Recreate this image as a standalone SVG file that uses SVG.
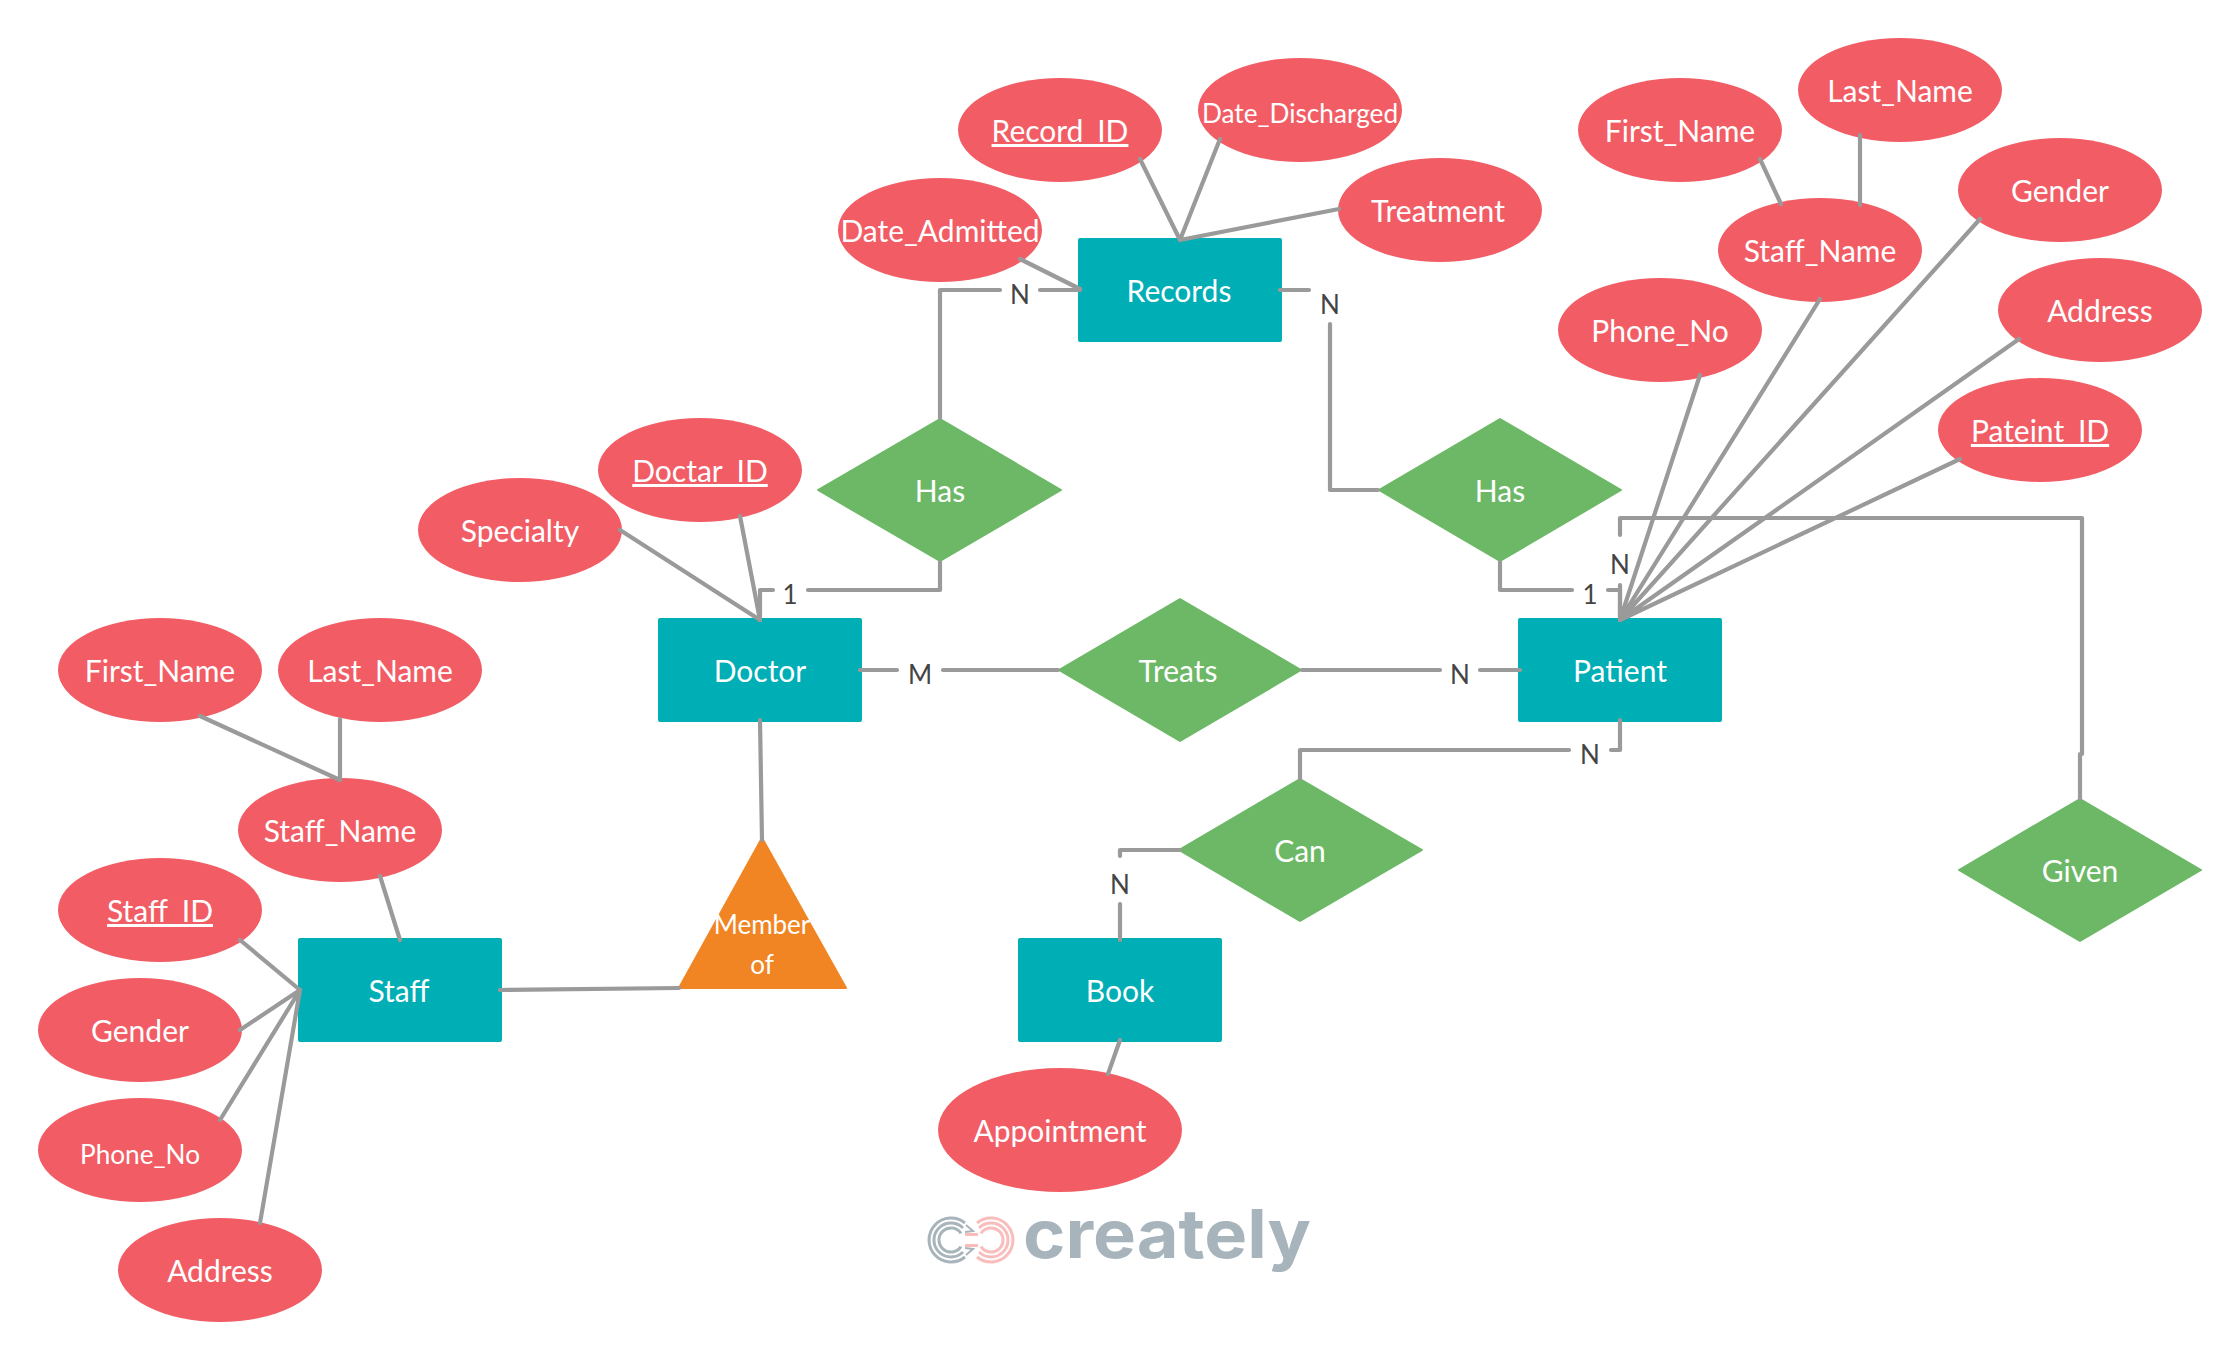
<svg xmlns="http://www.w3.org/2000/svg" width="2240" height="1361" viewBox="0 0 2240 1361">
<defs>
<style>
text{font-family:"Lato","Carlito","Noto Sans",sans-serif;font-size:30px;fill:#fff;text-anchor:middle}
#nodes text{transform:translateY(1px)}
.e{fill:#f25d65}
.r{fill:#00aeb6}
.d{fill:#6cb866;stroke:#6cb866;stroke-width:2;stroke-linejoin:round}
.t{fill:#f18523;stroke:#f18523;stroke-width:2;stroke-linejoin:round}
.u{text-decoration:underline}
.s{font-size:26.2px}
.l{fill:#444;font-size:26px}
#connectors path{fill:none;stroke:#9a9a9a;stroke-width:4.2;stroke-linecap:round;stroke-linejoin:round}
.lg{fill:none;stroke:#a8b4bc;stroke-width:3}
.lp{fill:none;stroke:#fbbcbc;stroke-width:3}
</style>
</defs>
<rect width="2240" height="1361" fill="#fff"/>
<g id="nodes">
<g id="date_admitted"><ellipse class="e" cx="940" cy="230" rx="102" ry="52"/><text x="940" y="241">Date_Admitted</text></g>
<g id="record_id"><ellipse class="e" cx="1060" cy="130" rx="102" ry="52"/><text class="u" x="1060" y="141">Record_ID</text></g>
<g id="date_discharged"><ellipse class="e" cx="1300" cy="110" rx="102" ry="52"/><text class="s" x="1300" y="122">Date_Discharged</text></g>
<g id="treatment"><ellipse class="e" cx="1440" cy="210" rx="102" ry="52"/><text x="1438" y="221">Treatment</text></g>
<g id="records"><rect class="r" x="1078" y="238" width="204" height="104" rx="2"/><text x="1179" y="301">Records</text></g>
<g id="p_first_name"><ellipse class="e" cx="1680" cy="130" rx="102" ry="52"/><text x="1680" y="141">First_Name</text></g>
<g id="p_last_name"><ellipse class="e" cx="1900" cy="90" rx="102" ry="52"/><text x="1900" y="101">Last_Name</text></g>
<g id="p_staff_name"><ellipse class="e" cx="1820" cy="250" rx="102" ry="52"/><text x="1820" y="261">Staff_Name</text></g>
<g id="p_gender"><ellipse class="e" cx="2060" cy="190" rx="102" ry="52"/><text x="2060" y="201">Gender</text></g>
<g id="p_phone_no"><ellipse class="e" cx="1660" cy="330" rx="102" ry="52"/><text x="1660" y="341">Phone_No</text></g>
<g id="p_address"><ellipse class="e" cx="2100" cy="310" rx="102" ry="52"/><text x="2100" y="321">Address</text></g>
<g id="pateint_id"><ellipse class="e" cx="2040" cy="430" rx="102" ry="52"/><text class="u" x="2040" y="441">Pateint_ID</text></g>
<g id="has_records"><polygon class="d" points="940,419 1061,490 940,561 818,490"/><text x="940" y="501">Has</text></g>
<g id="has_patient"><polygon class="d" points="1500,419 1621,490 1500,561 1379,490"/><text x="1500" y="501">Has</text></g>
<g id="doctar_id"><ellipse class="e" cx="700" cy="470" rx="102" ry="52"/><text class="u" x="700" y="481">Doctar_ID</text></g>
<g id="specialty"><ellipse class="e" cx="520" cy="530" rx="102" ry="52"/><text x="520" y="541">Specialty</text></g>
<g id="doctor"><rect class="r" x="658" y="618" width="204" height="104" rx="2"/><text x="760" y="681">Doctor</text></g>
<g id="treats"><polygon class="d" points="1180,599 1301,670 1180,741 1059,670"/><text x="1178" y="681">Treats</text></g>
<g id="patient"><rect class="r" x="1518" y="618" width="204" height="104" rx="2"/><text x="1620" y="681">Patient</text></g>
<g id="can"><polygon class="d" points="1300,779 1422,850 1300,921 1179,850"/><text x="1300" y="861">Can</text></g>
<g id="given"><polygon class="d" points="2080,799 2201,870 2080,941 1959,870"/><text x="2080" y="881">Given</text></g>
<g id="member_of"><polygon class="t" points="762,838 846,988 679,988"/><text x="762" y="933" style="font-size:26px">Member</text><text x="762" y="973" style="font-size:26px">of</text></g>
<g id="s_first_name"><ellipse class="e" cx="160" cy="670" rx="102" ry="52"/><text x="160" y="681">First_Name</text></g>
<g id="s_last_name"><ellipse class="e" cx="380" cy="670" rx="102" ry="52"/><text x="380" y="681">Last_Name</text></g>
<g id="s_staff_name"><ellipse class="e" cx="340" cy="830" rx="102" ry="52"/><text x="340" y="841">Staff_Name</text></g>
<g id="staff_id"><ellipse class="e" cx="160" cy="910" rx="102" ry="52"/><text class="u" x="160" y="921">Staff_ID</text></g>
<g id="s_gender"><ellipse class="e" cx="140" cy="1030" rx="102" ry="52"/><text x="140" y="1041">Gender</text></g>
<g id="s_phone_no"><ellipse class="e" cx="140" cy="1150" rx="102" ry="52"/><text class="s" x="140" y="1163">Phone_No</text></g>
<g id="s_address"><ellipse class="e" cx="220" cy="1270" rx="102" ry="52"/><text x="220" y="1281">Address</text></g>
<g id="staff"><rect class="r" x="298" y="938" width="204" height="104" rx="2"/><text x="399" y="1001">Staff</text></g>
<g id="book"><rect class="r" x="1018" y="938" width="204" height="104" rx="2"/><text x="1120" y="1001">Book</text></g>
<g id="appointment"><ellipse class="e" cx="1060" cy="1130" rx="122" ry="62"/><text x="1060" y="1141">Appointment</text></g>
</g>
<g id="connectors">
<path d="M1020 259L1080 289M1140 159L1180 240L1220 139M1180 240L1339 209"/>
<path d="M1080 290H1040M1000 290H940V418"/>
<path d="M1280 290H1309M1330 324V490H1378"/>
<path d="M1760 159L1781 204M1860 135V205"/>
<path d="M1820 299L1620 620M1980 219L1620 620M2019 339L1620 620M1700 375L1620 620M1960 459L1620 620"/>
<path d="M1620 620V585M1620 535V518H2082V754H2080V799"/>
<path d="M1500 562V590H1572M1608 590H1620V620"/>
<path d="M620 530L760 620M740 516L760 620"/>
<path d="M940 562V590H808M773 590H760V620"/>
<path d="M860 670H897M943 670H1058M1302 670H1440M1480 670H1520"/>
<path d="M760 720L762 840M500 990L679 988"/>
<path d="M380 876L400 940M200 716L340 780M340 719V780"/>
<path d="M240 940L300 990M240 1030L300 990M220 1120L300 990M260 1223L300 990"/>
<path d="M1300 779V750H1569M1611 750H1620V720"/>
<path d="M1180 850H1120V856M1120 904V940M1120 1040L1108 1074"/>
</g>
<g id="labels">
<text class="l" x="1020" y="304">N</text>
<text class="l" x="1330" y="314">N</text>
<text class="l" x="1620" y="574">N</text>
<text class="l" x="1590" y="604">1</text>
<text class="l" x="790" y="604">1</text>
<text class="l" x="920" y="684">M</text>
<text class="l" x="1460" y="684">N</text>
<text class="l" x="1590" y="764">N</text>
<text class="l" x="1120" y="894">N</text>
</g>
<g id="logo">
<path class="lp" d="M977 1223A22 22 0 1 1 977 1257M979 1228A17 17 0 1 1 979 1252M981 1233.400A12 12 0 1 1 981 1246.600"/>
<path class="lg" d="M965 1223A22 22 0 1 0 965 1257M963 1228A17 17 0 1 0 963 1252M961 1233.400A12 12 0 1 0 961 1246.600"/>
<path class="lp" d="M965 1234.500H978M965 1245.500H978"/>
<path class="lg" style="stroke-width:2" d="M966 1225L973 1231L965 1232M966 1255L973 1249L965 1248"/>
<text x="1167" y="1258" style="font-family:'Inter','Liberation Sans',sans-serif;font-weight:700;font-size:67px;fill:#a8b4bc" textLength="288" lengthAdjust="spacingAndGlyphs">creately</text>
</g>
</svg>
